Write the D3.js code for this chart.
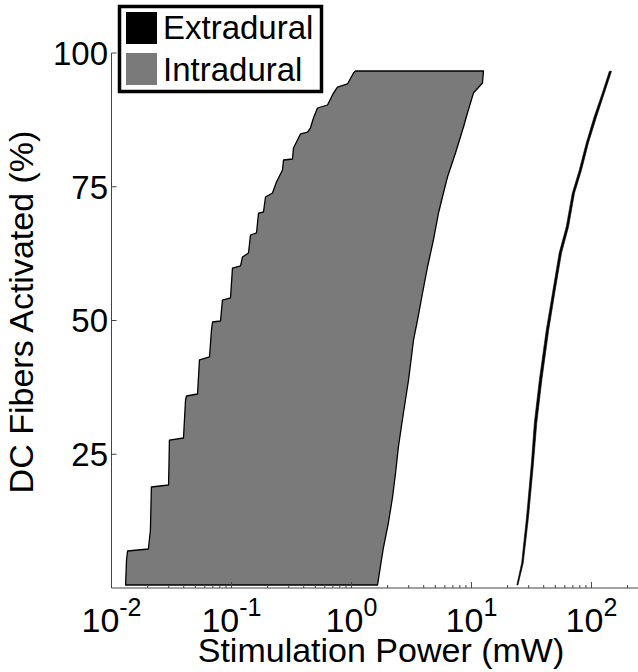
<!DOCTYPE html>
<html><head><meta charset="utf-8">
<script src="https://cdn.jsdelivr.net/npm/d3@7"></script>
<style>body{margin:0;background:#fff}svg{display:block}text{font-family:"Liberation Sans",Arial,sans-serif;fill:#000}</style>
</head><body>
<svg id="c" width="638" height="672"></svg>
<script>
// Intradural region: left (lowest power) boundary, bottom to top
const intraLeftPct = [0.56,5.23,6.92,7.29,10.84,18.88,19.25,27.66,28.04,35.14,35.89,36.26,42.62,43.18,48.22,49.72,49.91,53.83,54.21,59.81,60.19,61.87,62.62,65.98,66.36,70.09,70.28,73.08,73.83,75.89,78.13,80.0,80.19,82.24,84.86,85.23,85.98,87.85,89.72,90.28,92.52,93.64,94.21,96.26,96.64];
const intraLeftPower = [0.0131,0.01334,0.0136,0.0203,0.0211,0.0215,0.0299,0.0304,0.0398,0.0414,0.0422,0.0521,0.0541,0.0656,0.0681,0.0695,0.0810,0.0841,0.0981,0.1019,0.119,0.1235,0.1386,0.144,0.1616,0.168,0.1848,0.192,0.2196,0.237,0.266,0.2714,0.3225,0.3286,0.3758,0.430,0.455,0.482,0.521,0.631,0.708,0.764,0.926,1.039,1.080];
// Intradural region: right (highest power) boundary, top to bottom
const intraRightPct = [96.64,94.39,92.52,88.79,86.17,81.31,76.82,73.83,70.09,65.05,60.0,55.14,50.09,46.36,38.88,32.71,26.36,21.5,17.01,12.15,7.66,3.93,0.56];
const intraRightPower = [12.59,12.35,10.39,9.26,8.58,7.36,6.31,5.84,5.31,4.82,4.30,3.91,3.55,3.29,2.99,2.71,2.46,2.33,2.20,2.03,1.85,1.74,1.65];
// Extradural band
const extraPct = [0.56,4.67,13.3,23.4,30.8,38.9,48.2,55.1,62.6,67.5,73.8,78.1,83.2,88.0,92.5,96.6];
const extraLow = [23.9,26.2,28.8,31.6,33.4,36.8,42.0,47.3,53.8,61.6,69.2,79.1,90.5,105,123,141];
const extraHigh = [24.4,27.0,29.9,32.9,35.0,38.6,44.0,49.4,56.3,64.4,72.2,82.6,94.4,110,128,147];
// Axes
const yTicks = [25,50,75,100];
const xMajor = [0.01,0.1,1,10,100];
const xExp = ["-2","-1","0","1","2"];
const legendNames = ["Extradural","Intradural"];
const legendColors = ["#000000","#7a7a7a"];

const svg = d3.select("#c");
const x = d3.scaleLog().domain([0.01,250]).range([111.5,639.2]);
const y = d3.scaleLinear().domain([0,100]).range([588,53]);

// Intradural polygon
const intraPts = intraLeftPct.map((p,i)=>[intraLeftPower[i],p])
  .concat(intraRightPct.map((p,i)=>[intraRightPower[i],p]));
const line = d3.line().x(d=>x(d[0])).y(d=>y(d[1]));
svg.append("path").attr("d", line(intraPts)+"Z")
  .attr("fill","#7a7a7a").attr("stroke","#000").attr("stroke-width",1.3).attr("stroke-linejoin","round");

// Extradural band
const area = d3.area().x0((d,i)=>x(extraLow[i])).x1((d,i)=>x(extraHigh[i])).y(d=>y(d));
svg.append("path").attr("d", area(extraPct)).attr("fill","#000").attr("stroke","#000").attr("stroke-width",0.6);

// Axes lines
const ax = svg.append("g").attr("stroke","#444").attr("stroke-width",1).attr("fill","none");
ax.append("line").attr("x1",x(0.01)).attr("x2",x(0.01)).attr("y1",y(100)).attr("y2",y(0));
ax.append("line").attr("x1",x(0.01)).attr("x2",638).attr("y1",y(0)).attr("y2",y(0));
yTicks.forEach(t=>{
  ax.append("line").attr("x1",x(0.01)).attr("x2",x(0.01)+5).attr("y1",y(t)).attr("y2",y(t));
});
const minor = [];
xMajor.forEach(m=>{ for(let k=2;k<=9;k++){ const v=m*k; if(v<=250) minor.push(v);} });
minor.forEach(v=>{
  ax.append("line").attr("x1",x(v)).attr("x2",x(v)).attr("y1",y(0)).attr("y2",y(0)-3);
});
xMajor.forEach(v=>{
  ax.append("line").attr("x1",x(v)).attr("x2",x(v)).attr("y1",y(0)).attr("y2",y(0)-6);
});

// Y tick labels
yTicks.forEach(t=>{
  svg.append("text").attr("x",108).attr("y",y(t)).attr("dy","0.36em")
    .attr("text-anchor","end").attr("font-size",33).text(t);
});
// X tick labels
xMajor.forEach((v,i)=>{
  const t = svg.append("text").attr("x",x(v)).attr("y",632).attr("text-anchor","middle").attr("font-size",34);
  t.append("tspan").text("10");
  t.append("tspan").attr("dy",-16).attr("font-size",25).text(xExp[i]);
});
// Axis titles
svg.append("text").attr("x",381).attr("y",662).attr("text-anchor","middle").attr("font-size",34)
  .text("Stimulation Power (mW)");
svg.append("text").attr("transform","translate(33,312) rotate(-90)").attr("text-anchor","middle").attr("font-size",34)
  .text("DC Fibers Activated (%)");

// Legend
const lg = svg.append("g");
lg.append("rect").attr("x",119.5).attr("y",6.5).attr("width",202).attr("height",85)
  .attr("fill","#fff").attr("stroke","#000").attr("stroke-width",3.5);
legendNames.forEach((n,i)=>{
  lg.append("rect").attr("x",126).attr("y",12+i*41).attr("width",31).attr("height",32).attr("fill",legendColors[i]);
  lg.append("text").attr("x",163).attr("y",39+i*42).attr("font-size",33).text(n);
});
</script>
</body></html>
